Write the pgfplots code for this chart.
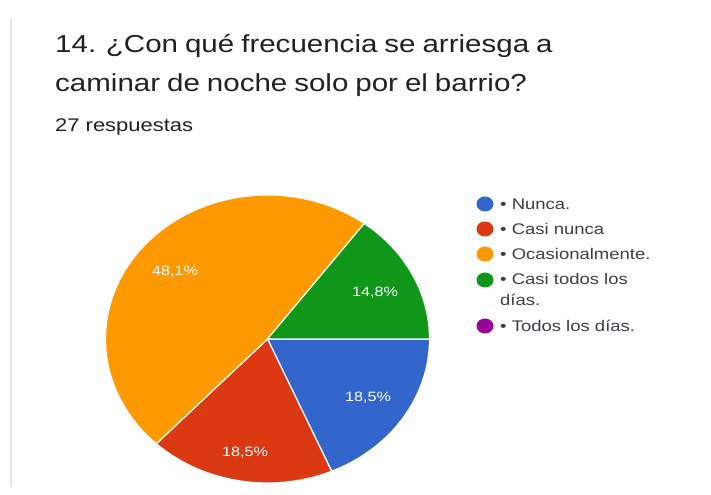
\documentclass[border=0pt]{standalone}
\usepackage{fontspec}
\setmainfont{Liberation Sans}[FakeStretch=1.2]
\newfontfamily\titlefont{Liberation Sans}[FakeStretch=1.2, WordSpace=0.85]
\usepackage{pgfplots}
\pgfplotsset{compat=1.18}
\definecolor{gblue}{HTML}{3366CC}
\definecolor{gred}{HTML}{DC3912}
\definecolor{gorange}{HTML}{FF9900}
\definecolor{ggreen}{HTML}{109618}
\definecolor{gpurple}{HTML}{990099}
\definecolor{tdark}{HTML}{202124}
\definecolor{tgray}{HTML}{3C4043}
% data: percentages of the 27 answers
\def\vA{18.5}\def\vB{18.5}\def\vC{48.1}\def\vD{14.8}\def\vE{0}
\pgfmathsetmacro\tot{\vA+\vB+\vC+\vD+\vE}
\pgfmathsetmacro\k{360/\tot}
\pgfmathsetmacro\aA{-\k*\vA}
\pgfmathsetmacro\aB{\aA-\k*\vB}
\pgfmathsetmacro\aC{\aB-\k*\vC}
\pgfmathsetmacro\aD{\aC-\k*\vD}
\begin{document}
\begin{tikzpicture}
\begin{axis}[
  scale only axis, width=711pt, height=487pt,
  xmin=0, xmax=711, ymin=0, ymax=487,
  hide axis, clip=false]
\path (axis cs:0,0) rectangle (axis cs:711,487);
\draw[gray!22, line width=1.5pt] (axis cs:11,0) -- (axis cs:11,469);
% pie
\def\cx{267.5}\def\cy{148}
\fill[gblue, draw=white, line width=1.2pt] (axis cs:\cx,\cy) -- ++(0:162pt and 144pt) arc[start angle=0, end angle=\aA, x radius=162pt, y radius=144pt] -- cycle;
\fill[gred, draw=white, line width=1.2pt] (axis cs:\cx,\cy) -- ++(\aA:162pt and 144pt) arc[start angle=\aA, end angle=\aB, x radius=162pt, y radius=144pt] -- cycle;
\fill[gorange, draw=white, line width=1.2pt] (axis cs:\cx,\cy) -- ++(\aB:162pt and 144pt) arc[start angle=\aB, end angle=\aC, x radius=162pt, y radius=144pt] -- cycle;
\fill[ggreen, draw=white, line width=1.2pt] (axis cs:\cx,\cy) -- ++(\aC:162pt and 144pt) arc[start angle=\aC, end angle=\aD, x radius=162pt, y radius=144pt] -- cycle;
% slice labels
\node[white, font=\fontsize{13.5}{16}\selectfont] at (axis cs:175,215) {48,1\%};
\node[white, font=\fontsize{13.5}{16}\selectfont] at (axis cs:375,194) {14,8\%};
\node[white, font=\fontsize{13.5}{16}\selectfont] at (axis cs:368,89) {18,5\%};
\node[white, font=\fontsize{13.5}{16}\selectfont] at (axis cs:245,34) {18,5\%};
% title
\node[anchor=base west, inner sep=0pt, text=tdark, font=\titlefont\fontsize{24.6}{28}\selectfont] at (axis cs:55,434) {14. ¿Con qué frecuencia se arriesga a};
\node[anchor=base west, inner sep=0pt, text=tdark, font=\titlefont\fontsize{24.6}{28}\selectfont] at (axis cs:55,395) {caminar de noche solo por el barrio?};
\node[anchor=base west, inner sep=0pt, text=tdark, font=\fontsize{18.3}{20}\selectfont] at (axis cs:55,355) {27 respuestas};
% legend
\fill[gblue] (axis cs:485,283) ellipse[x radius=8.5pt, y radius=7.5pt];
\fill[gred] (axis cs:485,258) ellipse[x radius=8.5pt, y radius=7.5pt];
\fill[gorange] (axis cs:485,233) ellipse[x radius=8.5pt, y radius=7.5pt];
\fill[ggreen] (axis cs:485,207) ellipse[x radius=8.5pt, y radius=7.5pt];
\fill[gpurple] (axis cs:485,161) ellipse[x radius=8.5pt, y radius=7.5pt];
\begin{scope}[every node/.style={anchor=west, inner sep=0pt, text=tgray, font=\fontsize{15.4}{21}\selectfont}]
\node at (axis cs:500,283) {• Nunca.};
\node at (axis cs:500,258) {• Casi nunca};
\node at (axis cs:500,233) {• Ocasionalmente.};
\node[anchor=north west, align=left] at (axis cs:500,214) {• Casi todos los\\días.};
\node at (axis cs:500,161) {• Todos los días.};
\end{scope}
\end{axis}
\end{tikzpicture}
\end{document}
